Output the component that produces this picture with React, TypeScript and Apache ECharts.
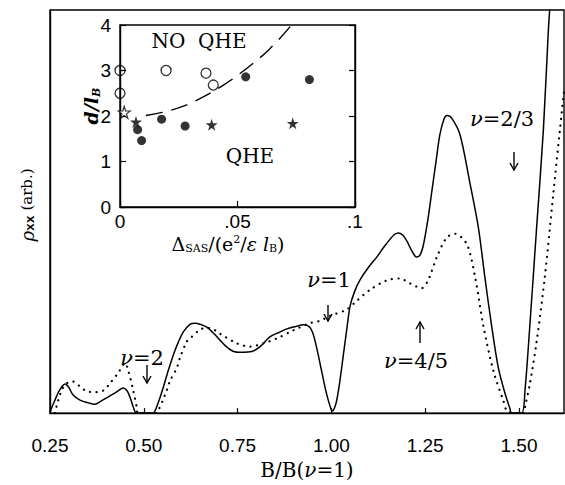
import React, { useEffect, useRef } from 'react';
import * as echarts from 'echarts';

// ---------- main panel data (B/B(nu=1), rho_xx arb.) ----------
const xTickValues = [0.25, 0.5, 0.75, 1.0, 1.25, 1.5];

const solidB = [
  0.25, 0.262, 0.275, 0.29, 0.3, 0.31, 0.33, 0.35, 0.37, 0.385, 0.401, 0.425, 0.445, 0.455, 0.463, 0.472, 0.481,
  0.525, 0.532, 0.542, 0.552, 0.565, 0.579, 0.592, 0.605, 0.623, 0.636, 0.652, 0.668, 0.686, 0.703, 0.72, 0.739,
  0.76, 0.788, 0.81, 0.836, 0.86, 0.881, 0.905, 0.925, 0.94, 0.95, 0.961, 0.974, 0.984, 0.992, 1.0, 1.003, 1.008,
  1.014, 1.022, 1.032, 1.042, 1.05, 1.062, 1.076, 1.1, 1.121, 1.14, 1.156, 1.168, 1.178, 1.19, 1.201, 1.214, 1.227,
  1.236, 1.244, 1.257, 1.268, 1.279, 1.289, 1.3, 1.308, 1.321, 1.343, 1.369, 1.392, 1.409, 1.427, 1.445, 1.463,
  1.476, 1.48, 1.507, 1.516, 1.529, 1.547, 1.565, 1.578, 1.584,
];
const solidRho = [
  0.3, 3.0, 5.6, 7.2, 6.4, 4.7, 3.2, 2.6, 2.2, 2.9, 3.8, 5.1, 6.2, 5.6, 4.0, 1.5, 0,
  0, 1.0, 3.5, 6.4, 10.5, 14.5, 17.6, 20.1, 22.0, 22.3, 22.0, 21.3, 19.8, 18.1, 16.5, 15.3,
  15.1, 15.3, 16.5, 18.9, 20.0, 20.9, 21.5, 21.9, 21.5, 20.0, 16.1, 10.4, 6.0, 3.1, 0.8, 0.5, 1.2,
  3.1, 7.5, 14.5, 21.5, 26.6, 30.2, 33.0, 36.3, 38.7, 41.2, 43.1, 44.3, 44.7, 44.2, 42.7, 40.3, 38.7,
  39.2, 41.2, 47.9, 55.2, 62.5, 69.0, 72.9, 73.8, 73.1, 69.0, 57.2, 45.9, 33.8, 21.7, 11.2, 4.8,
  1.1, 0, 0, 5.6, 21.8, 46.0, 70.2, 94.4, 103,
];

const dotB = [
  0.263, 0.272, 0.285, 0.298, 0.312, 0.33, 0.348, 0.37, 0.392, 0.412, 0.432, 0.45, 0.459, 0.472, 0.481, 0.485,
  0.535, 0.539, 0.55, 0.561, 0.57, 0.588, 0.596, 0.614, 0.623, 0.654, 0.676, 0.703, 0.748, 0.783, 0.819, 0.854,
  0.898, 0.943, 0.97, 0.996, 1.041, 1.067, 1.103, 1.147, 1.183, 1.209, 1.241, 1.258, 1.281, 1.307, 1.329, 1.361,
  1.383, 1.405, 1.432, 1.458, 1.471, 1.512, 1.516, 1.529, 1.547, 1.569, 1.591, 1.609, 1.62,
];
const dotRho = [
  0, 3.2, 6.4, 7.6, 7.8, 6.6, 5.4, 5.2, 5.6, 7.6, 10.0, 12.4, 10.4, 5.6, 1.5, 0,
  0, 0.7, 3.0, 5.6, 8.0, 11.2, 13.6, 17.7, 18.5, 20.9, 21.1, 19.7, 17.3, 16.5, 17.3, 18.5,
  20.5, 22.3, 22.9, 24.1, 25.7, 27.8, 30.6, 32.9, 33.4, 32.2, 31.0, 33.0, 38.7, 43.5, 44.5, 41.9,
  33.8, 21.7, 10.4, 3.2, 0.3, 0, 1.5, 7.3, 17.7, 33.9, 54.0, 70.2, 79.9,
];

// ---------- inset data (Delta_SAS/(e^2/eps l_B), d/l_B) ----------
const openCircleX = [0, 0, 0.0196, 0.0366, 0.0397];
const openCircleY = [3.0, 2.5, 3.0, 2.94, 2.68];
const filledCircleX = [0.0075, 0.0092, 0.0177, 0.0277, 0.0535, 0.0806];
const filledCircleY = [1.7, 1.46, 1.93, 1.78, 2.86, 2.8];
const filledStarX = [0.0068, 0.039, 0.0735];
const filledStarY = [1.87, 1.81, 1.84];
const openStarX = [0.0018];
const openStarY = [2.08];
const boundaryX = [0.011, 0.018, 0.0255, 0.034, 0.044, 0.054, 0.0638, 0.073];
const boundaryY = [2.01, 2.08, 2.19, 2.38, 2.68, 3.05, 3.48, 4.0];

const zip = (xs: number[], ys: number[]) => xs.map((x, i) => [x, ys[i]]);

const STAR = 'path://M50,0 L61,35 L98,35 L68,57 L79,91 L50,70 L21,91 L32,57 L2,35 L39,35 Z';
const SERIF = '"DejaVu Serif", serif';
const SANS = '"Liberation Sans", Arial, sans-serif';

function downArrow(x: number, y1: number, y2: number) {
  return {
    type: 'group',
    children: [
      { type: 'line', shape: { x1: x, y1, x2: x, y2 }, style: { stroke: '#000', lineWidth: 1.4 } },
      {
        type: 'polyline',
        shape: { points: [[x - 4, y2 - 7], [x, y2], [x + 4, y2 - 7]] },
        style: { stroke: '#000', lineWidth: 1.4, fill: 'none' },
      },
    ],
  };
}
function upArrow(x: number, y1: number, y2: number) {
  // y1 bottom, y2 top (head)
  return {
    type: 'group',
    children: [
      { type: 'line', shape: { x1: x, y1, x2: x, y2 }, style: { stroke: '#000', lineWidth: 1.4 } },
      {
        type: 'polyline',
        shape: { points: [[x - 4, y2 + 7], [x, y2], [x + 4, y2 + 7]] },
        style: { stroke: '#000', lineWidth: 1.4, fill: 'none' },
      },
    ],
  };
}

const nuRich = {
  i: { fontFamily: SERIF, fontStyle: 'italic', fontSize: 21, fill: '#000' },
  r: { fontFamily: SERIF, fontSize: 21, fill: '#000' },
};
function nuLabel(x: number, y: number, rest: string) {
  return {
    type: 'text',
    x,
    y,
    style: { text: `{i|ν}{r|${rest}}`, rich: nuRich, align: 'center', verticalAlign: 'middle' },
  };
}

export default function App() {
  const ref = useRef<HTMLDivElement>(null);
  useEffect(() => {
    const chart = echarts.init(ref.current!, null, { renderer: 'svg' });
    const option: any = {
      animation: false,
      backgroundColor: '#fff',
      grid: [
        { left: 50, right: 1, top: 10, bottom: 62, show: true, borderColor: '#000', borderWidth: 1.4, backgroundColor: 'transparent' },
        { left: 120, top: 25, width: 235, height: 182, show: true, borderColor: '#000', borderWidth: 1.4, backgroundColor: '#fff' },
      ],
      xAxis: [
        {
          gridIndex: 0,
          type: 'value',
          min: 0.25,
          max: 1.62,
          interval: 0.25,
          axisLine: { show: true, lineStyle: { color: '#000', width: 1.4 } },
          axisTick: { show: true, inside: true, length: 5, lineStyle: { color: '#000', width: 1.2 } },
          splitLine: { show: false },
          axisLabel: {
            margin: 23,
            fontFamily: SANS,
            fontSize: 19,
            color: '#000',
            showMaxLabel: false,
            formatter: (v: number) => (xTickValues.some((t) => Math.abs(t - v) < 1e-6) ? v.toFixed(2) : ''),
          },
          name: 'B/B({i|ν}=1)',
          nameLocation: 'middle',
          nameGap: 45,
          nameTextStyle: {
            fontFamily: SERIF,
            fontSize: 20,
            color: '#000',
            rich: { i: { fontFamily: SERIF, fontStyle: 'italic', fontSize: 20, color: '#000' } },
          },
        },
        {
          gridIndex: 1,
          type: 'value',
          min: 0,
          max: 0.1,
          interval: 0.05,
          axisLine: { show: true, lineStyle: { color: '#000', width: 1.4 } },
          axisTick: { show: true, inside: true, length: 6, lineStyle: { color: '#000', width: 1.2 } },
          splitLine: { show: false },
          axisLabel: {
            margin: 5,
            fontFamily: SANS,
            fontSize: 19,
            color: '#000',
            formatter: (v: number) => (v === 0 ? '0' : v.toFixed(2).replace(/^0/, '').replace(/0$/, '')),
          },
        },
      ],
      yAxis: [
        {
          gridIndex: 0,
          type: 'value',
          min: 0,
          max: 100,
          axisLine: { show: true, lineStyle: { color: '#000', width: 1.4 } },
          axisTick: { show: false },
          axisLabel: { show: false },
          splitLine: { show: false },
        },
        {
          gridIndex: 1,
          type: 'value',
          min: 0,
          max: 4,
          interval: 1,
          axisLine: { show: true, lineStyle: { color: '#000', width: 1.4 } },
          axisTick: { show: true, inside: true, length: 6, lineStyle: { color: '#000', width: 1.2 } },
          splitLine: { show: false },
          axisLabel: { margin: 9, fontFamily: SANS, fontSize: 19, color: '#000' },
        },
        {
          gridIndex: 1,
          type: 'value',
          position: 'right',
          min: 0,
          max: 4,
          interval: 1,
          axisLine: { show: true, lineStyle: { color: '#000', width: 1.4 } },
          axisTick: { show: true, inside: true, length: 6, lineStyle: { color: '#000', width: 1.2 } },
          splitLine: { show: false },
          axisLabel: { show: false },
        },
      ],
      series: [
        {
          name: 'solid',
          type: 'line',
          xAxisIndex: 0,
          yAxisIndex: 0,
          data: zip(solidB, solidRho),
          showSymbol: false,
          smooth: 0.3,
          lineStyle: { color: '#000', width: 1.5 },
        },
        {
          name: 'dotted',
          type: 'line',
          xAxisIndex: 0,
          yAxisIndex: 0,
          data: zip(dotB, dotRho),
          showSymbol: false,
          smooth: 0.3,
          lineStyle: { color: '#000', width: 2.2, type: [0.1, 6.5], cap: 'round' },
        },
        {
          name: 'boundary',
          type: 'line',
          xAxisIndex: 1,
          yAxisIndex: 1,
          data: zip(boundaryX, boundaryY),
          showSymbol: false,
          smooth: 0.4,
          lineStyle: { color: '#000', width: 1.4, type: [17, 9] },
        },
        {
          name: 'open circles',
          type: 'scatter',
          xAxisIndex: 1,
          yAxisIndex: 1,
          data: zip(openCircleX, openCircleY),
          symbol: 'circle',
          symbolSize: 10,
          itemStyle: { color: 'rgba(255,255,255,0)', borderColor: '#000', borderWidth: 1.3 },
        },
        {
          name: 'filled circles',
          type: 'scatter',
          xAxisIndex: 1,
          yAxisIndex: 1,
          data: zip(filledCircleX, filledCircleY),
          symbol: 'circle',
          symbolSize: 9,
          itemStyle: { color: '#000' },
        },
        {
          name: 'filled stars',
          type: 'scatter',
          xAxisIndex: 1,
          yAxisIndex: 1,
          data: zip(filledStarX, filledStarY),
          symbol: STAR,
          symbolSize: 12,
          itemStyle: { color: '#000' },
        },
        {
          name: 'open star',
          type: 'scatter',
          xAxisIndex: 1,
          yAxisIndex: 1,
          data: zip(openStarX, openStarY),
          symbol: STAR,
          symbolSize: 12,
          itemStyle: { color: '#fff', borderColor: '#000', borderWidth: 1.2 },
        },
      ],
      graphic: [
        {
          type: 'text',
          x: 27,
          y: 205,
          rotation: Math.PI / 2,
          style: {
            text: '{g|ρ}{b|xx}{m| (arb.)}',
            align: 'center',
            verticalAlign: 'middle',
            rich: {
              g: { fontFamily: SERIF, fontStyle: 'italic', fontSize: 18, fill: '#000', lineHeight: 20 },
              b: { fontFamily: '"Liberation Mono", monospace', fontWeight: 'bold', fontSize: 13, fill: '#000', verticalAlign: 'bottom', lineHeight: 14 },
              m: { fontFamily: SERIF, fontSize: 15, fill: '#000', lineHeight: 20 },
            },
          },
        },
        {
          type: 'text',
          x: 91,
          y: 106,
          rotation: Math.PI / 2,
          style: {
            text: '{a|d/l}{s|B}',
            align: 'center',
            verticalAlign: 'middle',
            rich: {
              a: { fontFamily: SERIF, fontStyle: 'italic', fontWeight: 'bold', fontSize: 19, fill: '#000', lineHeight: 22 },
              s: { fontFamily: SERIF, fontStyle: 'italic', fontWeight: 'bold', fontSize: 11, fill: '#000', verticalAlign: 'bottom', lineHeight: 11 },
            },
          },
        },
        {
          type: 'text',
          x: 228,
          y: 244,
          style: {
            text: '{t|Δ}{s|SAS}{t|/(e}{p|2}{t|/}{it|ε l}{s|B}{t|)}',
            align: 'center',
            verticalAlign: 'middle',
            rich: {
              t: { fontFamily: SERIF, fontSize: 19, fill: '#000', lineHeight: 20 },
              it: { fontFamily: SERIF, fontStyle: 'italic', fontSize: 19, fill: '#000', lineHeight: 20 },
              s: { fontFamily: SERIF, fontSize: 11, fill: '#000', verticalAlign: 'bottom', lineHeight: 10 },
              p: { fontFamily: SERIF, fontSize: 11, fill: '#000', verticalAlign: 'top', lineHeight: 10 },
            },
          },
        },
        {
          type: 'text',
          x: 199,
          y: 41,
          style: { text: 'NO  QHE', fontFamily: SERIF, fontSize: 20, fill: '#000', align: 'center', verticalAlign: 'middle' },
        },
        {
          type: 'text',
          x: 250,
          y: 156,
          style: { text: 'QHE', fontFamily: SERIF, fontSize: 20, fill: '#000', align: 'center', verticalAlign: 'middle' },
        },
        nuLabel(142, 358, '=2'),
        nuLabel(329, 280, '=1'),
        nuLabel(416, 361, '=4/5'),
        nuLabel(502, 119, '=2/3'),
        downArrow(147, 365, 383),
        downArrow(328, 305, 321),
        upArrow(420, 343, 322),
        downArrow(514, 152, 170),
      ],
    };
    chart.setOption(option);
    return () => chart.dispose();
  }, []);
  return <div ref={ref} style={{ position: 'absolute', left: 0, top: 0, width: 565, height: 485 }} />;
}
